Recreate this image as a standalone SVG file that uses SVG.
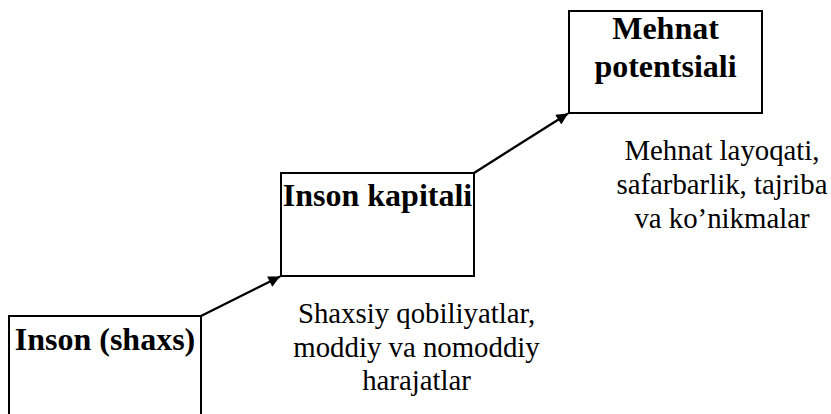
<svg xmlns="http://www.w3.org/2000/svg" width="831" height="414" viewBox="0 0 831 414">
<style>
.box{fill:#fff;stroke:#000;stroke-width:2}
.t{font-weight:bold;font-size:32px;fill:#000;text-anchor:middle}
.d{font-size:28.8px;fill:#000;text-anchor:middle}
.c{stroke:#000;stroke-width:2.3;fill:none}
</style>
<defs>
<marker id="ah" viewBox="0 0 10 10" refX="10" refY="5" markerWidth="6" markerHeight="5" markerUnits="strokeWidth" orient="auto">
<path d="M0,0 L10,5 L0,10 z" fill="#000"/>
</marker>
</defs>
<rect width="831" height="414" fill="#fff"/>
<g id="node-inson">
<rect class="box" x="9" y="316" width="192" height="110"/>
<text class="t" font-family="Liberation Serif, Times New Roman, serif" x="105" y="350">Inson (shaxs)</text>
</g>
<g id="node-kapital">
<rect class="box" x="281" y="173" width="193" height="103"/>
<text class="t" font-family="Liberation Serif, Times New Roman, serif" x="377.5" y="206">Inson kapitali</text>
</g>
<g id="node-potential">
<rect class="box" x="569" y="11" width="193" height="102"/>
<text class="t" font-family="Liberation Serif, Times New Roman, serif" x="665.5" y="39">Mehnat</text>
<text class="t" font-family="Liberation Serif, Times New Roman, serif" x="665.5" y="77">potentsiali</text>
</g>
<g id="label-kapital" font-family="Liberation Serif, Times New Roman, serif">
<text class="d" x="416.5" y="323">Shaxsiy qobiliyatlar,</text>
<text class="d" x="416.5" y="356.5">moddiy va nomoddiy</text>
<text class="d" x="416.5" y="390">harajatlar</text>
</g>
<g id="label-potential" font-family="Liberation Serif, Times New Roman, serif">
<text class="d" x="722" y="160">Mehnat layoqati,</text>
<text class="d" x="722" y="194">safarbarlik, tajriba</text>
<text class="d" x="722" y="228">va ko’nikmalar</text>
</g>
<g id="connectors">
<line class="c" x1="201" y1="316" x2="280" y2="276.5" marker-end="url(#ah)"/>
<line class="c" x1="474" y1="173" x2="568" y2="113.5" marker-end="url(#ah)"/>
</g>
</svg>
